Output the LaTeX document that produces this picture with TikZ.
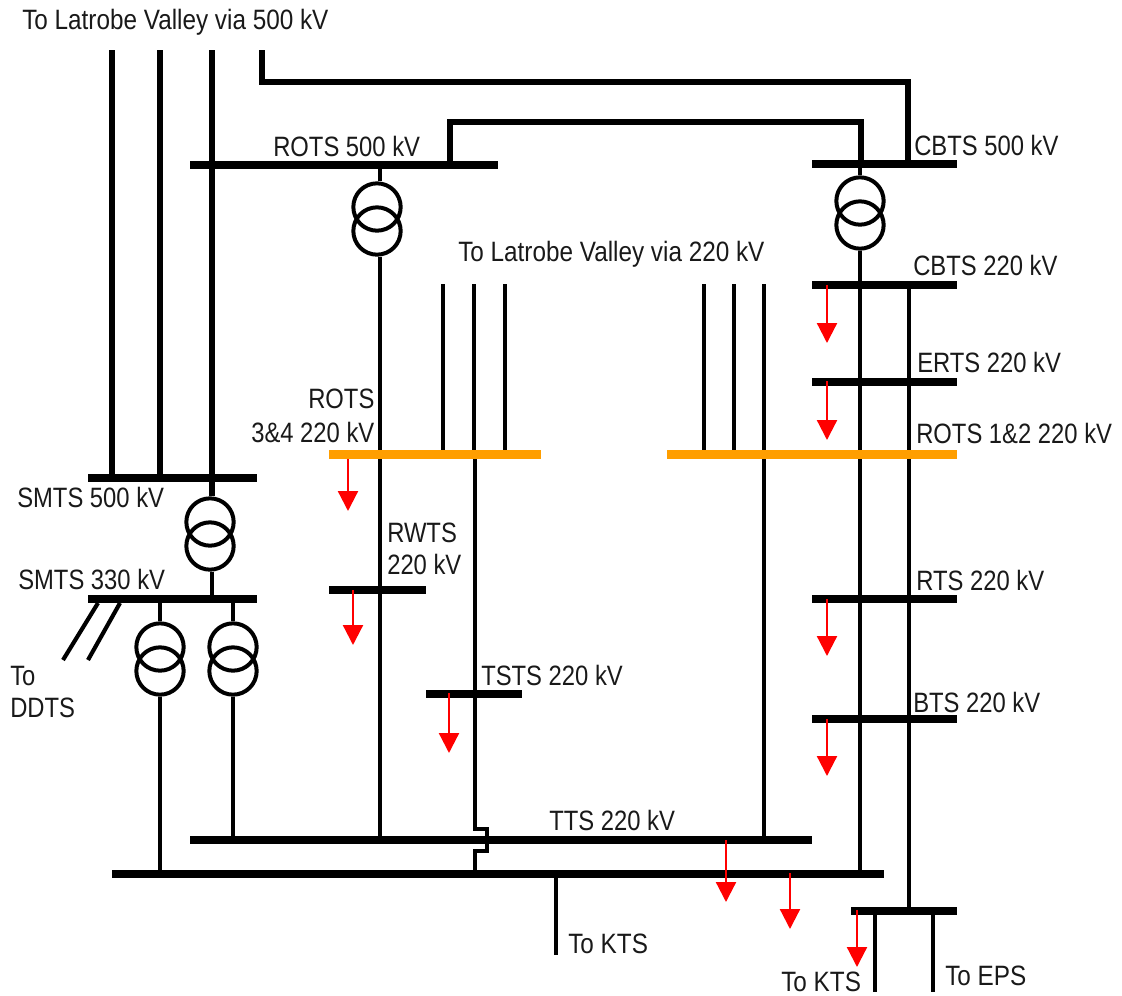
\documentclass[tikz,border=0pt]{standalone}
\usepackage{fontspec}
\setmainfont[FakeStretch=0.85]{Liberation Sans}
\newfontfamily\widerfont[FakeStretch=0.868]{Liberation Sans}
\usetikzlibrary{arrows.meta}
\definecolor{busorange}{HTML}{FF9E00}
\pgfdeclarelayer{top}
\pgfsetlayers{main,top}
\tikzset{
  x=0.75pt,y=-0.75pt,
  bus/.style={fill=black,draw=none,rectangle,inner sep=0,minimum height=6pt,anchor=west},
  orangebus/.style={bus,fill=busorange,minimum height=6.75pt},
  wire/.style={draw=black,line width=3.1pt},
  feeder/.style={draw=black,line width=3.8pt},
  heavy/.style={draw=black,line width=4.4pt,line join=miter},
  coil/.style={circle,draw=black,line width=3pt,inner sep=0,minimum size=35.5pt,fill=none},
  load/.style={draw=red,line width=1.7pt,-{Triangle[width=15pt,length=15pt,fill=red]}},
  lab/.style={anchor=west,inner sep=0,font=\fontsize{21}{25}\selectfont,text=black!90},
  widelab/.style={lab,font=\fontsize{21}{25}\selectfont\widerfont}
}
\newcommand{\busnode}[5][bus]{\node[#1,minimum width=#5*0.75pt] (#2) at (#3,#4) {};}
\begin{document}
\begin{tikzpicture}
\useasboundingbox (0,0) rectangle (1122,996);
% free ends
\foreach \n/\px/\py in {a1/112/50,a2/160/50,a3/212/50,a4/262/50,
  b1/443/284,b2/474/284,b3/505/284,b4/704/284,b5/734/284,b6/764/284,
  kts1/556/955,kts2/875/992,eps/933/992,
  dd1/63/660,dd2/88/660,dd1t/98/603,dd2t/120/603,
  j1/475/829,j2/487/829,j3/487/851,j4/475/851,
  t1/908/82,t2/450/122,t3/861/122,t4/262/82,
  l1/348/511,l2/353/645,l3/449/753,l4/827/343,l5/827/440,l6/827/656,l7/827/776,l8/726/902,l9/790/929,l10/857/967,
  s1/348/454,s2/353/590,s3/449/693,s4/827/285,s5/827/381,s6/827/599,s7/827/719,s8/726/840,s9/790/873,s10/857/910,
  v1/380/164,v2/860/164,v3/909/285,v4/450/164,v5/908/164,v6/861/164}
  {\coordinate (\n) at (\px,\py);}
% buses
\busnode{rots500}{190}{164.5}{308}
\busnode{cbts500}{812}{164}{145}
\busnode{cbts220}{812}{285}{145}
\busnode{erts}{812}{381.5}{145}
\begin{pgfonlayer}{top}
\busnode[orangebus]{rots34}{329}{454}{212}
\busnode[orangebus]{rots12}{667}{454}{290}
\end{pgfonlayer}
\busnode{smts500}{88}{478}{169}
\busnode{smts330}{88}{599}{169}
\busnode{rwts}{329}{590}{97}
\busnode{rts}{812}{599}{145}
\busnode{tsts}{426}{693.5}{96}
\busnode{bts}{812}{719}{145}
\busnode{tts}{190}{840}{622}
\busnode{main}{112}{873.5}{772}
\busnode{sub}{851}{910.5}{106}
% transformers
\node[coil] (tra1) at (377,207) {}; \node[coil] (tra2) at (377,231) {};
\node[coil] (trb1) at (860,201) {}; \node[coil] (trb2) at (860,225) {};
\node[coil] (trc1) at (210,522) {}; \node[coil] (trc2) at (210,546) {};
\node[coil] (trd1) at (160,647) {}; \node[coil] (trd2) at (160,671) {};
\node[coil] (tre1) at (233,647) {}; \node[coil] (tre2) at (233,671) {};
% feeders
\draw[feeder] (a1) -- (a1 |- smts500.center);
\draw[feeder] (a2) -- (a2 |- smts500.center);
\draw[feeder] (a3) -- (a3 |- trc1.north);
\draw[wire] (trc2.south -| a3) -- (a3 |- smts330.center);
\draw[heavy] (a4) -- (t4) -- (t1) -- (v5);
\draw[heavy] (v4) -- (t2) -- (t3) -- (v6);
\draw[wire] (v2) -- (trb1.north);
\draw[wire] (v1 |- rots500.center) -- (tra1.north -| v1);
\draw[wire] (tra2.south -| v1) -- (v1 |- tts.center);
\draw[wire] (trb2.south) -- (trb2.south |- main.center);
\draw[wire] (v3) -- (v3 |- sub.center);
\draw[wire] (b1) -- (b1 |- rots34.center);
\draw[wire] (b2) -- (b2 |- rots34.center);
\draw[wire] (b3) -- (b3 |- rots34.center);
\draw[wire] (b4) -- (b4 |- rots12.center);
\draw[wire] (b5) -- (b5 |- rots12.center);
\draw[wire] (b6) -- (b6 |- tts.center);
\draw[wire,line width=3.3pt,line join=miter] (j1 |- rots34.center) -- (j1) -- (j2) -- (j3) -- (j4) -- (j4 |- main.center);
\draw[wire] (trd1.north) -- (trd1.north |- smts330.center);
\draw[wire] (tre1.north) -- (tre1.north |- smts330.center);
\draw[wire] (trd2.south) -- (trd2.south |- main.center);
\draw[wire] (tre2.south) -- (tre2.south |- tts.center);
\draw[wire] (dd1t) -- (dd1);
\draw[wire] (dd2t) -- (dd2);
\draw[wire] (kts1 |- main.center) -- (kts1);
\draw[wire] (kts2 |- sub.center) -- (kts2);
\draw[wire] (eps |- sub.center) -- (eps);
% loads
\foreach \i in {1,...,10} {\draw[load] (s\i) -- (l\i);}
% labels
\node[widelab] (n1) at (22,22) {To Latrobe Valley via 500 kV};
\node[lab] (n2) at (273,146) {ROTS 500 kV};
\node[lab] (n3) at (914,145) {CBTS 500 kV};
\node[widelab] (n4) at (458,254) {To Latrobe Valley via 220 kV};
\node[lab] (n5) at (913,265) {CBTS 220 kV};
\node[lab] (n6) at (917,362) {ERTS 220 kV};
\node[lab] (n7) at (308,399) {ROTS};
\node[lab] (n8) at (251,432) {3\&4 220 kV};
\node[lab] (n9) at (916,433) {ROTS 1\&2 220 kV};
\node[lab] (n10) at (17,497) {SMTS 500 kV};
\node[lab] (n11) at (387,533) {RWTS};
\node[lab] (n12) at (387,564) {220 kV};
\node[lab] (n13) at (18,579) {SMTS 330 kV};
\node[lab] (n14) at (916,580) {RTS 220 kV};
\node[lab] (n15) at (10,676) {To};
\node[lab] (n16) at (10,708) {DDTS};
\node[lab] (n17) at (481,675) {TSTS 220 kV};
\node[lab] (n18) at (913,702) {BTS 220 kV};
\node[lab] (n19) at (549,820) {TTS 220 kV};
\node[widelab] (n20) at (568,944) {To KTS};
\node[widelab] (n21) at (945,976) {To EPS};
\node[widelab] (n22) at (781,982) {To KTS};
\end{tikzpicture}
\end{document}
